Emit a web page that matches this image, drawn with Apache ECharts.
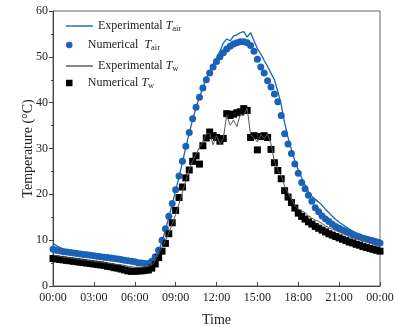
<!DOCTYPE html>
<html><head><meta charset="utf-8">
<script src="https://cdn.jsdelivr.net/npm/echarts@6/dist/echarts.min.js"></script>
<style>html,body{margin:0;padding:0;background:#fff}#c{width:395px;height:327px}</style>
</head><body><div id="c"></div>
<script>
var times = [0,0.25,0.5,0.75,1,1.25,1.5,1.75,2,2.25,2.5,2.75,3,3.25,3.5,3.75,4,4.25,4.5,4.75,5,5.25,5.5,5.75,6,6.25,6.5,6.75,7,7.25,7.5,7.75,8,8.25,8.5,8.75,9,9.25,9.5,9.75,10,10.25,10.5,10.75,11,11.25,11.5,11.75,12,12.25,12.5,12.75,13,13.25,13.5,13.75,14,14.25,14.5,14.75,15,15.25,15.5,15.75,16,16.25,16.5,16.75,17,17.25,17.5,17.75,18,18.25,18.5,18.75,19,19.25,19.5,19.75,20,20.25,20.5,20.75,21,21.25,21.5,21.75,22,22.25,22.5,22.75,23,23.25,23.5,23.75,24];
var airExp = [9.3,8.8,8.4,8.1,7.9,7.8,7.7,7.6,7.4,7.3,7.2,7.1,7.0,6.9,6.8,6.6,6.5,6.4,6.3,6.1,6.0,5.9,5.8,5.6,5.5,5.4,5.2,5.1,5.0,5.3,6.2,7.6,9.6,12.2,15.0,17.8,20.8,23.8,27.0,30.3,33.4,36.3,38.9,41.2,43.3,45.2,46.8,48.3,49.7,51.2,53.0,53.9,53.5,54.5,54.8,55.3,55.5,54.3,55.3,53.5,51.8,50.6,49.2,47.9,46.4,45.0,42.5,39.5,35.6,32.4,29.8,27.3,25.3,23.6,22.0,20.6,19.6,18.9,18.3,17.6,16.7,16.0,15.2,14.5,13.9,13.4,12.9,12.4,12.0,11.6,11.3,11.0,10.8,10.6,10.4,10.2,10.0];
var airNum = [8.0,7.8,7.7,7.5,7.4,7.3,7.2,7.1,7.0,6.9,6.8,6.7,6.6,6.5,6.4,6.3,6.2,6.1,6.0,5.9,5.8,5.6,5.5,5.4,5.3,5.1,5.0,4.9,4.9,5.4,6.4,7.8,10.0,12.5,15.2,18.0,21.0,24.0,27.2,30.5,33.5,36.5,39.0,41.2,43.2,45.0,46.5,47.8,49.0,50.0,50.9,51.7,52.3,52.8,53.1,53.3,53.3,53.1,52.5,51.2,49.5,47.8,46.5,44.8,43.4,41.9,40.2,37.2,33.2,31.0,28.9,26.6,24.6,22.6,21.2,19.8,18.5,17.1,16.2,15.3,14.6,14.1,13.5,13.0,12.6,12.2,11.9,11.5,11.2,10.9,10.7,10.4,10.2,10.0,9.8,9.6,9.4];
var wExp = [6.8,6.6,6.5,6.3,6.2,6.1,6.0,5.9,5.8,5.7,5.6,5.5,5.4,5.3,5.2,5.1,5.0,4.9,4.8,4.7,4.6,4.5,4.3,4.2,4.1,4.1,4.1,4.2,4.3,4.6,5.5,7.0,8.5,9.9,11.6,13.5,15.6,18.0,20.5,23.0,25.5,27.3,28.8,30.2,31.5,33.2,33.3,30.8,32.8,31.0,32.2,37.3,35.1,36.2,34.8,37.5,37.2,38.8,33.0,32.4,31.4,33.0,32.2,33.2,31.0,27.2,25.3,24.0,21.8,20.3,19.0,17.6,16.8,16.4,16.0,15.3,14.8,14.4,14.1,13.6,13.1,12.7,12.4,12.1,11.8,11.5,11.2,11.0,10.7,10.5,10.2,10.0,9.7,9.4,9.1,8.8,8.5];
var wNum = [6.0,5.9,5.8,5.7,5.6,5.5,5.4,5.3,5.2,5.1,5.0,4.9,4.8,4.7,4.6,4.5,4.3,4.2,4.0,3.9,3.7,3.5,3.3,3.2,3.2,3.3,3.3,3.4,3.5,3.9,4.8,6.2,7.6,9.3,11.4,13.8,16.5,19.3,21.6,23.6,25.3,27.2,28.4,26.6,30.6,32.3,33.6,32.8,32.4,31.6,32.2,37.6,37.2,37.5,37.8,38.0,38.7,38.3,32.4,32.8,29.7,32.6,32.8,32.4,29.8,26.9,25.2,23.4,20.8,19.4,18.2,17.0,15.9,15.2,14.6,14.0,13.5,13.0,12.6,12.2,11.8,11.4,11.1,10.8,10.5,10.2,9.9,9.6,9.4,9.1,8.9,8.6,8.4,8.2,8.0,7.8,7.6];
var xTickLabels = ['00:00','03:00','06:00','09:00','12:00','15:00','18:00','21:00','00:00'];
var seriesNames = ['Experimental T_air','Numerical T_air','Experimental T_w','Numerical T_w'];

var FONT = "'Liberation Serif','Times New Roman',serif";
var BLUE = '#1a62b8';
var GRAY = '#555';
function pairs(arr){ return times.map(function(t,i){ return [t, arr[i]]; }); }

var legendText = {
  'Experimental T_air': '{a|Experimental }{i|T}{s|air}',
  'Numerical T_air': '{a|Numerical  }{i|T}{s|air}',
  'Experimental T_w': '{a|Experimental }{i|T}{s|w}',
  'Numerical T_w': '{a|Numerical }{i|T}{s|w}'
};
var rich = {
  a: {fontFamily: FONT, fontSize: 12, color: '#222', lineHeight: 14},
  i: {fontFamily: FONT, fontSize: 12, fontStyle: 'italic', color: '#222', lineHeight: 14},
  s: {fontFamily: FONT, fontSize: 8.5, color: '#222', padding: [6,0,0,0]}
};
var LINE_ICON = 'path://M0,0L27,0L27,1.4L0,1.4Z';
var SQUARE_ICON = 'path://M0,0L10,0L10,10L0,10Z';
function mkLegend(name, top, icon){
  return {
    data: [{name: name, icon: icon}], left: 66, top: top, orient: 'vertical',
    itemWidth: 27, itemHeight: 6.5, itemGap: 0, padding: 0, symbolKeepAspect: true,
    formatter: function(n){ return legendText[n]; },
    textStyle: {rich: rich}
  };
}

var chart = echarts.init(document.getElementById('c'));
chart.setOption({
  animation: false,
  backgroundColor: '#fff',
  grid: {left: 53, right: 15, top: 11, bottom: 41, outerBoundsMode: 'none', containLabel: false,
    show: true, borderColor: '#666', borderWidth: 1, backgroundColor: 'transparent'},
  legend: [
    mkLegend(seriesNames[0], 20, LINE_ICON),
    mkLegend(seriesNames[1], 39, 'circle'),
    mkLegend(seriesNames[2], 60, LINE_ICON),
    mkLegend(seriesNames[3], 77, SQUARE_ICON)
  ],
  xAxis: {
    type: 'value', min: 0, max: 24, interval: 3,
    name: 'Time', nameLocation: 'middle', nameGap: 27, nameMoveOverlap: false,
    nameTextStyle: {fontFamily: FONT, fontSize: 14, color: '#222'},
    axisLine: {lineStyle: {color: '#444', width: 1}},
    axisTick: {inside: true, length: 4, lineStyle: {color: '#444'}},
    axisLabel: {fontFamily: FONT, fontSize: 12, color: '#222', margin: 6,
      formatter: function(v){ return xTickLabels[Math.round(v/3)]; }},
    splitLine: {show: false}
  },
  yAxis: {
    type: 'value', min: 0, max: 60, interval: 10,
    name: 'Temperature (°C)', nameLocation: 'middle', nameGap: 18, nameMoveOverlap: false,
    nameTextStyle: {fontFamily: FONT, fontSize: 14, color: '#222'},
    axisLine: {show: true, lineStyle: {color: '#444', width: 1}},
    axisTick: {show: true, inside: false, length: 4, lineStyle: {color: '#444'}},
    minorTick: {show: true, splitNumber: 2, length: 2, lineStyle: {color: '#444'}},
    axisLabel: {fontFamily: FONT, fontSize: 12, color: '#222', margin: 5},
    splitLine: {show: false}
  },
  series: [
    {name: seriesNames[1], type: 'scatter', data: pairs(airNum), symbol: 'circle', symbolSize: 7,
      itemStyle: {color: BLUE, opacity: 1}, z: 2},
    {name: seriesNames[0], type: 'line', data: pairs(airExp), symbol: 'none', showSymbol: false,
      lineStyle: {color: BLUE, width: 1.3}, itemStyle: {color: BLUE}, z: 3},
    {name: seriesNames[3], type: 'scatter', data: pairs(wNum), symbol: 'rect', symbolSize: 7,
      itemStyle: {color: '#000', opacity: 1}, z: 2},
    {name: seriesNames[2], type: 'line', data: pairs(wExp), symbol: 'none', showSymbol: false,
      lineStyle: {color: GRAY, width: 1}, itemStyle: {color: GRAY}, z: 4}
  ]
});
</script>
</body></html>
